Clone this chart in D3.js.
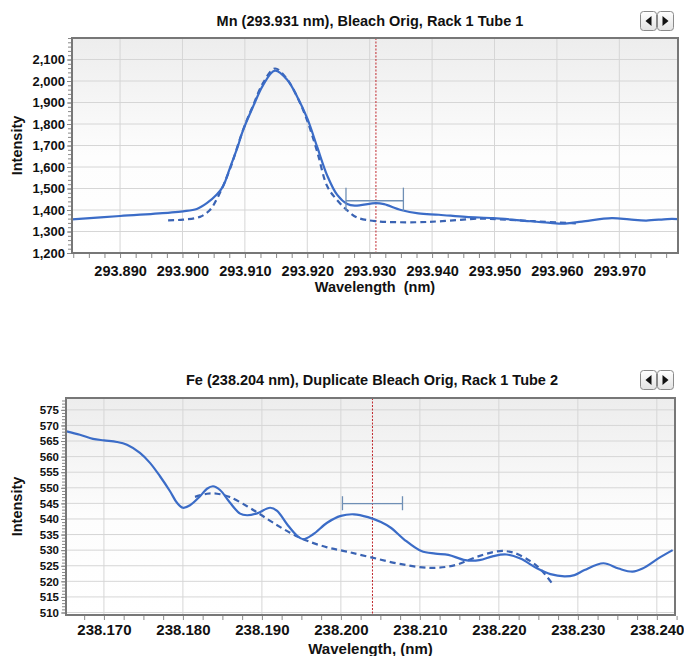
<!DOCTYPE html>
<html><head><meta charset="utf-8">
<script src="https://cdn.jsdelivr.net/npm/d3@7"></script>
<style>body{margin:0;background:#fff}svg{display:block;font-family:"Liberation Sans",Arial,sans-serif}</style>
</head><body>
<script>
// ---------- Mn panel data ----------
const mnTitle = "Mn (293.931 nm), Bleach Orig, Rack 1 Tube 1";
const mnXLabel = "Wavelength  (nm)";
const mnXTicks = [293.890,293.900,293.910,293.920,293.930,293.940,293.950,293.960,293.970];
const mnYTicks = [1200,1300,1400,1500,1600,1700,1800,1900,2000,2100];
const mnSolidWl = [293.8823,293.8900,293.8980,293.9001,293.9023,293.9039,293.9055,293.9065,293.9076,293.9088,293.9097,293.9113,293.9129,293.9148,293.9168,293.9184,293.9200,293.9216,293.9232,293.9248,293.9264,293.9276,293.9310,293.9323,293.9350,293.9378,293.9411,293.9454,293.9498,293.9541,293.9586,293.9613,293.9640,293.9688,293.9716,293.9743,293.9777,293.9794];
const mnSolidI  = [1356,1372,1388,1394,1405,1432,1472,1510,1595,1690,1770,1880,1980,2048,2005,1926,1826,1692,1560,1470,1428,1420,1432,1427,1400,1384,1378,1368,1362,1352,1341,1337,1346,1362,1356,1351,1358,1358];
const mnFitWl = [293.8977,293.9001,293.9028,293.9044,293.9057,293.9076,293.9097,293.9113,293.9129,293.9148,293.9166,293.9184,293.9200,293.9216,293.9232,293.9248,293.9264,293.9280,293.9310,293.9373,293.9416,293.9477,293.9509,293.9563,293.9618,293.9637];
const mnFitI  = [1352,1355,1368,1400,1462,1590,1772,1885,1990,2058,2015,1925,1815,1670,1510,1445,1398,1365,1348,1343,1348,1360,1356,1348,1340,1337];
const mnPeak = 293.931;
const mnWindow = [293.9262, 293.9354];
const mnWindowI = [1443, 1396, 1504];

// ---------- Fe panel data ----------
const feTitle = "Fe (238.204 nm), Duplicate Bleach Orig, Rack 1 Tube 2";
const feXLabel = "Wavelength, (nm)";
const feXTicks = [238.170,238.180,238.190,238.200,238.210,238.220,238.230,238.240];
const feYTicks = [510,515,520,525,530,535,540,545,550,555,560,565,570,575];
const feSolidWl = [238.16527,238.16696,238.16861,238.1700,238.17165,238.17292,238.17456,238.17583,238.1771,238.17837,238.17925,238.18001,238.1809,238.18217,238.18305,238.18381,238.1847,238.18597,238.18724,238.18812,238.18939,238.19104,238.19193,238.19319,238.19446,238.19522,238.19649,238.19826,238.2000,238.20166,238.20343,238.20507,238.20637,238.20802,238.21018,238.21195,238.2136,238.21575,238.21753,238.2193,238.22095,238.22272,238.22488,238.22653,238.2283,238.22957,238.23084,238.23324,238.23515,238.23692,238.23819,238.24034,238.2420];
const feSolidI  = [568.1,567.0,565.7,565.2,564.7,563.8,561.2,558.0,553.7,548.9,545.2,543.6,544.4,547.3,549.7,550.5,549.3,545.2,541.7,541.2,541.8,543.6,542.6,538.3,534.6,533.5,535.1,538.8,541.0,541.5,540.6,539.0,537.1,533.4,529.7,528.9,528.5,526.8,526.8,528.1,528.6,527.3,524.1,522.3,521.6,522.0,523.6,525.8,524.1,523.1,524.1,527.6,530.0];
const feFitWl = [238.18153,238.18305,238.18432,238.18597,238.18812,238.18977,238.19142,238.19357,238.19573,238.19826,238.2008,238.20397,238.20764,238.21144,238.21449,238.21715,238.22006,238.22184,238.22399,238.22526,238.22678];
const feFitI  = [547.1,548.1,548.1,547.0,544.1,541.5,538.8,535.6,533.0,530.9,529.5,527.6,525.5,524.3,525.2,527.8,529.7,529.2,526.5,523.9,519.2];
const fePeak = 238.204;
const feWindow = [238.2002, 238.2078];
const feWindowI = [544.9, 542.8, 547.3];

const W = 684, H = 656;
const svg = d3.select("body").append("svg").attr("width", W).attr("height", H);

const defs = svg.append("defs");
const bg = defs.append("linearGradient").attr("id","bg").attr("x1",0).attr("y1",0).attr("x2",0).attr("y2",1);
bg.append("stop").attr("offset","0").attr("stop-color","#ededed");
bg.append("stop").attr("offset","0.55").attr("stop-color","#fdfdfd");
bg.append("stop").attr("offset","1").attr("stop-color","#ffffff");
const bt = defs.append("linearGradient").attr("id","btn").attr("x1",0).attr("y1",0).attr("x2",0).attr("y2",1);
bt.append("stop").attr("offset","0").attr("stop-color","#ffffff");
bt.append("stop").attr("offset","1").attr("stop-color","#e2e2e2");

const blue = "#3b6cc7";
const FONT = "'Liberation Sans',Arial,sans-serif";

function panel(o) {
  const g = svg.append("g");
  const x = d3.scaleLinear().domain(o.xDomain).range([o.left, o.right]);
  const y = d3.scaleLinear().domain(o.yDomain).range([o.bottom, o.top]);

  g.append("rect").attr("x",o.left).attr("y",o.top).attr("width",o.right-o.left).attr("height",o.bottom-o.top).attr("fill","url(#bg)");

  g.append("g").selectAll("line").data(o.yGrid).join("line")
    .attr("x1",o.left).attr("x2",o.right).attr("y1",d=>y(d)).attr("y2",d=>y(d))
    .attr("stroke","#d6d6d6").attr("stroke-width",1);
  g.append("g").selectAll("line").data(o.xTicks).join("line")
    .attr("x1",d=>x(d)).attr("x2",d=>x(d)).attr("y1",o.top).attr("y2",o.bottom)
    .attr("stroke","#d6d6d6").attr("stroke-width",1);

  const clipId = "clip"+o.id;
  defs.append("clipPath").attr("id",clipId).append("rect")
    .attr("x",o.left).attr("y",o.top).attr("width",o.right-o.left).attr("height",o.bottom-o.top);
  const pg = g.append("g").attr("clip-path",`url(#${clipId})`);

  pg.append("line").attr("x1",x(o.peak)).attr("x2",x(o.peak)).attr("y1",o.top).attr("y2",o.bottom)
    .attr("stroke","#c0282d").attr("stroke-width",1).attr("stroke-dasharray","2,1.5");

  const line = d3.line().x(d=>x(d[0])).y(d=>y(d[1])).curve(d3.curveCatmullRom.alpha(0.5));
  pg.append("path").attr("d", line(d3.zip(o.fitWl,o.fitI)))
    .attr("fill","none").attr("stroke","#3a63b3").attr("stroke-width",2.2).attr("stroke-dasharray","6,4");
  pg.append("path").attr("d", line(d3.zip(o.solidWl,o.solidI)))
    .attr("fill","none").attr("stroke",blue).attr("stroke-width",2.2);

  const wc = "#6f8fb5";
  const [w0,w1] = o.win, [wy, wlo, whi] = o.winI;
  pg.append("line").attr("x1",x(w0)).attr("x2",x(w1)).attr("y1",y(wy)).attr("y2",y(wy)).attr("stroke",wc).attr("stroke-width",1.3);
  [w0,w1].forEach(v=>{
    pg.append("line").attr("x1",x(v)).attr("x2",x(v)).attr("y1",y(wlo)).attr("y2",y(whi)).attr("stroke",wc).attr("stroke-width",1.3);
  });

  g.append("rect").attr("x",o.left).attr("y",o.top).attr("width",o.right-o.left).attr("height",o.bottom-o.top)
    .attr("fill","none").attr("stroke","#777").attr("stroke-width",2);

  const ya = g.append("g").attr("transform",`translate(${o.left-1},0)`)
    .call(d3.axisLeft(y).tickValues(o.yTicks).tickFormat(o.yFmt).tickSize(4).tickPadding(2));
  const ym = g.append("g").attr("transform",`translate(${o.left-1},0)`)
    .call(d3.axisLeft(y).tickValues(o.yMinor).tickFormat("").tickSize(3));
  const xa = g.append("g").attr("transform",`translate(0,${o.bottom+1})`)
    .call(d3.axisBottom(x).tickValues(o.xTicks).tickFormat(d3.format(".3f")).tickSize(0).tickPadding(o.xPad));
  const xm = g.append("g").attr("transform",`translate(0,${o.bottom+1})`)
    .call(d3.axisBottom(x).tickValues(o.xMinor).tickFormat("").tickSize(4));
  [ya,ym,xa,xm].forEach(a=>{
    a.select(".domain").remove();
    a.selectAll("line").attr("stroke","#888");
    a.selectAll("text").attr("font-weight","bold").attr("fill","#111").attr("font-family",FONT);
  });
  ya.selectAll("text").attr("font-size",o.yFont);
  xa.selectAll("text").attr("font-size",o.xFont);

  g.append("text").attr("x",o.titleX).attr("y",o.titleY).attr("text-anchor","middle")
    .attr("font-size",14.5).attr("font-weight","bold").attr("fill","#111").text(o.title);
  g.append("text").attr("x",(o.left+o.right)/2).attr("y",o.xLabelY).attr("text-anchor","middle")
    .attr("font-size",o.xFont).attr("font-weight","bold").attr("fill","#111").style("white-space","pre").text(o.xLabel);
  g.append("text").attr("transform",`translate(22,${(o.top+o.bottom)/2}) rotate(-90)`).attr("text-anchor","middle")
    .attr("font-size",14.5).attr("font-weight","bold").attr("fill","#111").text("Intensity");

  const by = o.titleY - 15;
  [[640,"l"],[657,"r"]].forEach(([bx,dir])=>{
    g.append("rect").attr("x",bx+0.5).attr("y",by+0.5).attr("width",16).attr("height",19).attr("rx",3)
      .attr("fill","url(#btn)").attr("stroke","#8a8a8a");
    const cx = bx+8.5, cy = by+10;
    const pts = dir==="l" ? [[cx+3,cy-5],[cx+3,cy+5],[cx-3,cy]] : [[cx-3,cy-5],[cx-3,cy+5],[cx+3,cy]];
    g.append("path").attr("d","M"+pts.map(p=>p.join(",")).join("L")+"Z").attr("fill","#111");
  });
}

function rng(a,b,s){const r=[];for(let v=a;v<=b+1e-9;v+=s)r.push(+v.toFixed(6));return r;}

panel({
  id:"mn", left:72, right:678, top:38, bottom:253,
  xDomain:[293.8823,293.9794], yDomain:[1200,2200],
  xTicks:mnXTicks, xMinor:rng(293.8825,293.9775,0.0025),
  yTicks:mnYTicks, yGrid:rng(1200,2200,100), yMinor:rng(1200,2200,20), yFmt:d3.format(","),
  yFont:13, xFont:14.5, xPad:12, xLabelY:292,
  solidWl:mnSolidWl, solidI:mnSolidI, fitWl:mnFitWl, fitI:mnFitI,
  peak:mnPeak, win:mnWindow, winI:mnWindowI,
  title:mnTitle, titleX:370, titleY:26, xLabel:mnXLabel
});
panel({
  id:"fe", left:66, right:675, top:398, bottom:615,
  xDomain:[238.1652,238.2423], yDomain:[509.2,578.8],
  xTicks:feXTicks, xMinor:rng(238.1675,238.2425,0.0025),
  yTicks:feYTicks, yGrid:rng(510,575,5), yMinor:rng(510,578,1), yFmt:d3.format("d"),
  yFont:11.5, xFont:15, xPad:8.5, xLabelY:653.5,
  solidWl:feSolidWl, solidI:feSolidI, fitWl:feFitWl, fitI:feFitI,
  peak:fePeak, win:feWindow, winI:feWindowI,
  title:feTitle, titleX:372, titleY:385, xLabel:feXLabel
});
</script>
</body></html>
